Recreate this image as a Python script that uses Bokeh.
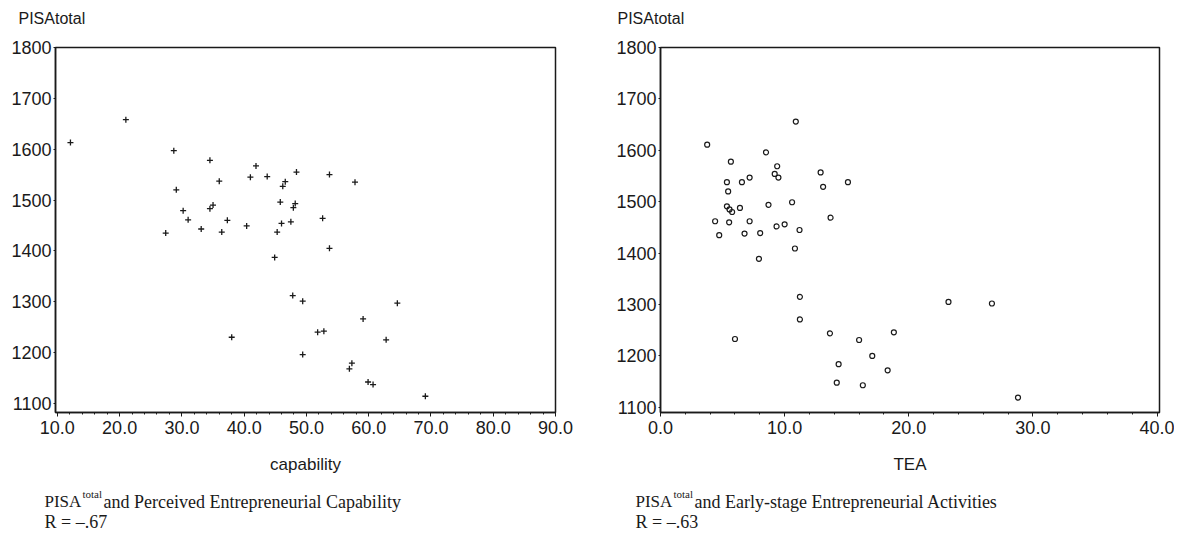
from bokeh.plotting import figure
from bokeh.layouts import row, column
from bokeh.models import Label, Range1d, FixedTicker, PrintfTickFormatter
from bokeh.embed import file_html
from bokeh.resources import INLINE

# ---- data ----
capability = [12.1, 21.0, 28.7, 34.5, 41.9, 41.0, 43.7, 48.4, 53.7, 57.8,
              36.0, 46.6, 46.2, 29.1, 45.8, 48.2, 47.9, 30.2, 35.0, 34.5,
              31.0, 37.3, 47.5, 46.0, 52.6, 33.1, 40.4, 27.4, 36.4, 45.3,
              53.7, 44.9, 38.0, 47.8, 49.4, 64.6, 59.1, 51.8, 52.8, 62.8,
              49.4, 57.3, 56.9, 59.9, 60.7, 69.1]
pisa_cap = [1613, 1658, 1597, 1578, 1567, 1545, 1546, 1555, 1550, 1535,
            1537, 1536, 1527, 1520, 1496, 1493, 1485, 1479, 1490, 1483,
            1461, 1460, 1457, 1454, 1464, 1443, 1449, 1435, 1437, 1437,
            1405, 1387, 1230, 1312, 1301, 1297, 1266, 1240, 1242, 1225,
            1196, 1179, 1168, 1142, 1137, 1114]

tea = [10.9, 3.76, 8.5, 5.67, 9.4, 9.2, 9.5, 12.9, 13.1, 15.1,
       5.35, 6.56, 7.18, 5.45, 10.6, 8.7, 5.35, 5.56, 5.77, 6.4,
       13.7, 4.4, 5.53, 7.18, 10.0, 9.35, 11.2, 4.73, 6.77, 8.03,
       10.83, 7.93, 11.23, 11.23, 6.0, 13.65, 16.0, 17.06, 14.35, 14.2,
       16.3, 18.3, 18.8, 23.2, 26.7, 28.8]
pisa_tea = [1656, 1611, 1596, 1578, 1569, 1554, 1547, 1557, 1529, 1538,
            1538, 1538, 1547, 1520, 1499, 1494, 1491, 1485, 1480, 1488,
            1469, 1462, 1460, 1462, 1456, 1452, 1445, 1435, 1438, 1439,
            1409, 1389, 1315, 1271, 1233, 1244, 1231, 1200, 1184, 1148,
            1143, 1172, 1246, 1305, 1302, 1119]

y_ticks = [1100, 1200, 1300, 1400, 1500, 1600, 1700, 1800]
x_ticks_cap = [10, 20, 30, 40, 50, 60, 70, 80, 90]
x_ticks_tea = [0, 10, 20, 30, 40]

SANS = "Liberation Sans"
SERIF = "Liberation Serif"
INK = "#1a1a1a"


def style(p, xticks, xminor):
    p.grid.visible = False
    p.outline_line_color = INK
    p.outline_line_width = 1.5
    xa = p.xaxis[0]
    ya = p.yaxis[0]
    xa.ticker = FixedTicker(ticks=xticks, minor_ticks=xminor)
    ya.ticker = FixedTicker(ticks=y_ticks, minor_ticks=[])
    xa.formatter = PrintfTickFormatter(format="%.1f")
    for ax in (xa, ya):
        ax.axis_line_color = INK
        ax.axis_line_width = 1.5
        ax.major_tick_line_color = INK
        ax.minor_tick_line_color = INK
        ax.major_label_text_font = SANS
        ax.major_label_text_font_size = "18px"
        ax.major_label_text_color = INK
        ax.axis_label_text_font = SANS
        ax.axis_label_text_font_size = "17px"
        ax.axis_label_text_font_style = "normal"
        ax.axis_label_text_color = INK
        ax.major_tick_in = 0
        ax.minor_tick_in = 0
    xa.major_tick_out = 4
    xa.minor_tick_out = 2
    xa.major_label_standoff = 4
    xa.axis_label_standoff = 18
    ya.major_tick_out = 2
    ya.minor_tick_out = 0
    ya.major_label_standoff = 2


def strip(width, height):
    c = figure(width=width, height=height, output_backend="svg", toolbar_location=None,
               x_range=Range1d(0, 1), y_range=Range1d(0, 1),
               min_border=0, min_border_left=0, min_border_right=0,
               min_border_top=0, min_border_bottom=0)
    c.axis.visible = False
    c.grid.visible = False
    c.outline_line_color = None
    return c


def lab(c, x, y, text, size, font):
    c.add_layout(Label(x=x, y=y, x_units="screen", y_units="screen", text=text,
                       text_font=font, text_font_size=size, text_color=INK,
                       text_baseline="middle", text_align="left"))


def top_fig(width, x0):
    c = strip(width, 27)
    lab(c, x0, 9, "PISAtotal", "16px", SANS)
    return c


def caption_fig(width, x0, line1, rtext):
    c = strip(width, 52)
    lab(c, x0, 33, "PISA", "17px", SERIF)
    lab(c, x0 + 38, 41, "total", "11px", SERIF)
    lab(c, x0 + 59, 33, line1, "18px", SERIF)
    lab(c, x0, 13, rtext, "18px", SERIF)
    return c


# ---- left panel ----
p1 = figure(width=590, height=455, output_backend="svg", toolbar_location=None,
            x_range=Range1d(9.7, 90.0), y_range=Range1d(1082, 1800),
            min_border_left=55, min_border_right=35, min_border_top=17,
            min_border_bottom=70, x_axis_label="capability")
style(p1, x_ticks_cap, [v / 2 for v in range(20, 181, 4)])
p1.scatter(capability, pisa_cap, marker="cross", size=6, line_color=INK, line_width=1.3)

# ---- right panel ----
p2 = figure(width=584, height=455, output_backend="svg", toolbar_location=None,
            x_range=Range1d(0.0, 40.2), y_range=Range1d(1090, 1800),
            min_border_left=70, min_border_right=15, min_border_top=20,
            min_border_bottom=69, x_axis_label="TEA")
style(p2, x_ticks_tea, [v for v in range(0, 41, 2)])
p2.scatter(tea, pisa_tea, marker="circle", size=5, fill_color=None,
           line_color=INK, line_width=1.2)

t1 = top_fig(590, 18)
t2 = top_fig(584, 27)
c1 = caption_fig(590, 44, "and Perceived Entrepreneurial Capability", "R = \u2013.67")
c2 = caption_fig(584, 45, "and Early-stage Entrepreneurial Activities", "R = \u2013.63")

layout = column(row(t1, t2), row(p1, p2), row(c1, c2))
open("out.html", "w").write(file_html(layout, INLINE))
